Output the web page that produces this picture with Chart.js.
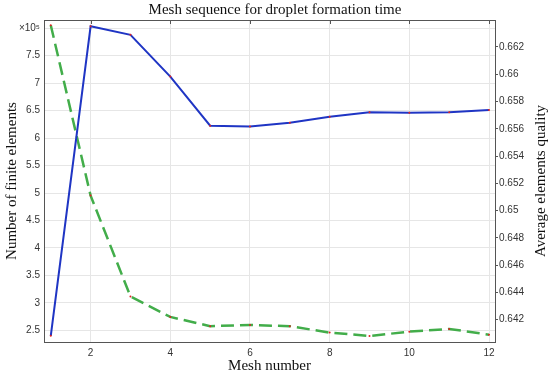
<!DOCTYPE html>
<html>
<head>
<meta charset="utf-8">
<script src="https://cdn.jsdelivr.net/npm/chart.js@4"></script>
<style>
  html, body { margin:0; padding:0; background:#fff; }
  #wrap { width:550px; height:375px; position:relative; }
</style>
</head>
<body>
<div id="wrap"><canvas id="c"></canvas></div>
<script>
// data
const meshNumbers = [1, 2, 3, 4, 5, 6, 7, 8, 9, 10, 11, 12];
const elementCounts = [2.40, 8.035, 7.88, 7.12, 6.225, 6.21, 6.28, 6.39, 6.47, 6.46, 6.47, 6.51]; // x 1e5
const avgQuality = [0.6636, 0.6511, 0.6437, 0.6422, 0.64152, 0.64161, 0.64152, 0.64105, 0.6408, 0.64112, 0.64132, 0.6409];
const xTickValues = [2, 4, 6, 8, 10, 12];

const serif = '"Liberation Serif", "DejaVu Serif", serif';
const sans = '"Liberation Sans", "DejaVu Sans", sans-serif';

const frame = {
    id: 'frame',
    afterDraw(chart) {
        const {ctx, chartArea: a, scales} = chart;
        ctx.save();
        ctx.strokeStyle = '#555';
        ctx.lineWidth = 1;
        ctx.strokeRect(a.left + 0.5, a.top + 0.5, a.right - a.left, a.bottom - a.top);
        // small inward ticks on top edge
        ctx.beginPath();
        xTickValues.forEach(v => {
            const x = Math.round(scales.x.getPixelForValue(v)) + 0.5;
            ctx.moveTo(x, a.top); ctx.lineTo(x, a.top + 4);
        });
        ctx.stroke();
        // right axis title, reading bottom to top
        ctx.translate(541, (a.top + a.bottom) / 2);
        ctx.rotate(-Math.PI / 2);
        ctx.fillStyle = '#111';
        ctx.font = '15px ' + serif;
        ctx.textAlign = 'center';
        ctx.textBaseline = 'middle';
        ctx.fillText('Average elements quality', 0, 0);
        ctx.restore();
    }
};

new Chart(document.getElementById('c'), {
    type: 'line',
    data: {
        labels: meshNumbers,
        datasets: [
            {
                data: meshNumbers.map((m, i) => ({x: m, y: elementCounts[i]})),
                yAxisID: 'y',
                borderColor: '#1f35c4',
                borderWidth: 2,
                pointRadius: 1,
                pointBackgroundColor: '#d22',
                pointBorderWidth: 0,
                tension: 0
            },
            {
                data: meshNumbers.map((m, i) => ({x: m, y: avgQuality[i]})),
                yAxisID: 'y2',
                borderColor: '#42ad4a',
                borderWidth: 2.5,
                borderDash: [13, 6],
                pointRadius: 1,
                pointBackgroundColor: '#d22',
                pointBorderWidth: 0,
                tension: 0
            }
        ]
    },
    options: {
        responsive: true,
        maintainAspectRatio: false,
        animation: false,
        layout: { padding: 0 },
        plugins: {
            legend: { display: false },
            tooltip: { enabled: false },
            title: {
                display: true,
                text: 'Mesh sequence for droplet formation time',
                color: '#111',
                font: { family: serif, size: 15, weight: 'normal' },
                padding: { top: 1, bottom: 1 }
            }
        },
        scales: {
            x: {
                type: 'linear',
                min: 0.83, max: 12.15,
                afterFit: s => { s.height = 33; },
                afterBuildTicks: s => { s.ticks = xTickValues.map(v => ({value: v})); },
                grid: { color: '#e6e6e6', tickLength: 0 },
                border: { display: false },
                ticks: { color: '#333', font: { family: sans, size: 10 }, padding: 5 },
                title: { display: true, text: 'Mesh number', color: '#111', font: { family: serif, size: 15 }, padding: { top: 0, bottom: 0 } }
            },
            y: {
                position: 'left',
                min: 2.287, max: 8.15,
                afterFit: s => { s.width = 44; },
                grid: { color: '#e6e6e6', tickLength: 0 },
                border: { display: false },
                ticks: {
                    stepSize: 0.5,
                    includeBounds: false,
                    color: '#333',
                    font: { family: sans, size: 10 },
                    padding: 4,
                    callback: v => (Math.abs(v - 8) < 1e-6 ? '×10⁵' : String(Math.round(v * 10) / 10))
                },
                title: { display: true, text: 'Number of finite elements', color: '#111', font: { family: serif, size: 15 }, padding: { top: 3, bottom: 0 } }
            },
            y2: {
                position: 'right',
                min: 0.64036, max: 0.66398,
                afterFit: s => { s.width = 55; },
                grid: { drawOnChartArea: false, color: '#555', tickLength: 3 },
                border: { display: false },
                ticks: {
                    stepSize: 0.002,
                    includeBounds: false,
                    color: '#333',
                    font: { family: sans, size: 10 },
                    padding: 1,
                    callback: v => String(Math.round(v * 1000) / 1000)
                }
            }
        }
    },
    plugins: [frame]
});
</script>
</body>
</html>
